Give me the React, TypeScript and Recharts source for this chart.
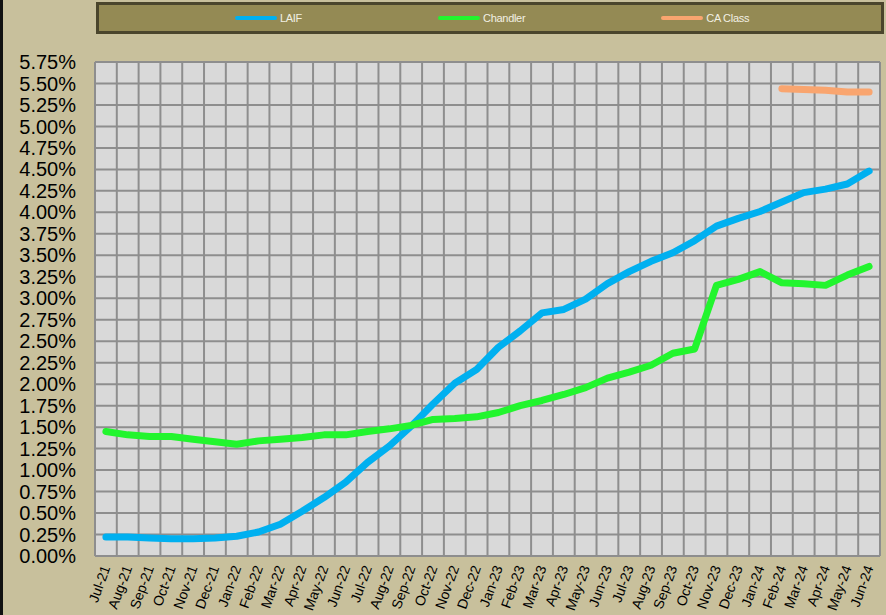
import React from 'react'
import {LineChart, Line, XAxis, YAxis, CartesianGrid, Legend} from 'recharts'

const months = [
  'Jul-21', 'Aug-21', 'Sep-21', 'Oct-21', 'Nov-21', 'Dec-21',
  'Jan-22', 'Feb-22', 'Mar-22', 'Apr-22', 'May-22', 'Jun-22',
  'Jul-22', 'Aug-22', 'Sep-22', 'Oct-22', 'Nov-22', 'Dec-22',
  'Jan-23', 'Feb-23', 'Mar-23', 'Apr-23', 'May-23', 'Jun-23',
  'Jul-23', 'Aug-23', 'Sep-23', 'Oct-23', 'Nov-23', 'Dec-23',
  'Jan-24', 'Feb-24', 'Mar-24', 'Apr-24', 'May-24', 'Jun-24',
]

const laif = [
  0.22, 0.22, 0.21, 0.2, 0.2, 0.21,
  0.23, 0.28, 0.37, 0.52, 0.68, 0.86,
  1.09, 1.28, 1.51, 1.77, 2.01, 2.17,
  2.43, 2.62, 2.83, 2.87, 2.99, 3.17,
  3.31, 3.43, 3.53, 3.67, 3.84, 3.93,
  4.01, 4.12, 4.23, 4.27, 4.33, 4.48,
]

const chandler = [
  1.45, 1.41, 1.39, 1.39, 1.36, 1.33,
  1.3, 1.34, 1.36, 1.38, 1.41, 1.41,
  1.45, 1.48, 1.52, 1.59, 1.6, 1.62,
  1.67, 1.75, 1.81, 1.88, 1.96, 2.07,
  2.14, 2.22, 2.36, 2.41, 3.15, 3.22,
  3.31, 3.18, 3.17, 3.15, 3.27, 3.37,
]

// CA Class only starts in Feb-24
const caClass = [
  null, null, null, null, null, null,
  null, null, null, null, null, null,
  null, null, null, null, null, null,
  null, null, null, null, null, null,
  null, null, null, null, null, null,
  null, 5.44, 5.43, 5.42, 5.4, 5.4,
]

const yTicks = [
  0, 0.25, 0.5, 0.75, 1, 1.25, 1.5, 1.75, 2, 2.25, 2.5, 2.75,
  3, 3.25, 3.5, 3.75, 4, 4.25, 4.5, 4.75, 5, 5.25, 5.5, 5.75,
]

const data = months.map((m, i) => ({
  month: m,
  LAIF: laif[i],
  Chandler: chandler[i],
  'CA Class': caClass[i],
}))

const series = [
  {key: 'LAIF', color: '#00b0f0'},
  {key: 'Chandler', color: '#22f52e'},
  {key: 'CA Class', color: '#f9a56f'},
]

const font = "'Liberation Sans', Arial, sans-serif"

// plot is 785px wide, 36 months -> half a month column each side
const halfCol = 785 / months.length / 2

function MonthTick(props: any) {
  const {x, y, payload} = props
  return (
    <g transform={`translate(${x},${y})`}>
      <text textAnchor='end' dy='0.35em' transform='rotate(-70)' fontSize={14} fontFamily={font} fill='#000'>
        {payload.value}
      </text>
    </g>
  )
}

function LegendBox() {
  return (
    <div style={{
      boxSizing: 'border-box', width: 788, height: 32,
      background: '#948a54', border: '3px solid #4a452c',
      display: 'flex', alignItems: 'center', gap: 136, paddingLeft: 136,
    }}>
      {series.map(s => (
        <div key={s.key} style={{display: 'flex', alignItems: 'center'}}>
          <div style={{width: 42, height: 4, borderRadius: 2, background: s.color, marginRight: 3}} />
          <span style={{fontFamily: font, fontSize: 11, color: '#f2f0e4', letterSpacing: -0.3}}>{s.key}</span>
        </div>
      ))}
    </div>
  )
}

export default function App() {
  return (
    <div style={{position: 'absolute', left: 0, top: 0, width: 886, height: 615, background: '#c8c09c'}}>
      <div style={{position: 'absolute', left: 0, top: 0, width: 3, height: 615, background: '#111'}} />
      <LineChart width={886} height={615} data={data} margin={{top: 30, right: 6, bottom: 0, left: 0}}>
        <CartesianGrid
          fill='#d9d9d9'
          stroke='#8e8e8e'
          strokeWidth={2}
          verticalCoordinatesGenerator={({offset}: any) =>
            Array.from({length: months.length + 1}, (_, i) => offset.left + (i * offset.width) / months.length)
          }
        />
        <XAxis
          dataKey='month'
          interval={0}
          axisLine={false}
          tickLine={false}
          tickSize={0}
          tickMargin={10}
          height={59}
          padding={{left: halfCol, right: halfCol}}
          tick={<MonthTick />}
        />
        <YAxis
          domain={[0, 5.75]}
          ticks={yTicks}
          interval={0}
          width={95}
          axisLine={false}
          tickLine={false}
          tickSize={0}
          tickMargin={19}
          tickFormatter={(v: number) => v.toFixed(2) + '%'}
          tick={{fontSize: 20, fontFamily: font, fill: '#000'}}
        />
        <Legend
          verticalAlign='top'
          height={32}
          content={() => <LegendBox />}
          wrapperStyle={{position: 'absolute', top: 2, left: 96, width: 788, height: 32}}
        />
        {series.map(s => (
          <Line
            key={s.key}
            dataKey={s.key}
            stroke={s.color}
            strokeWidth={7}
            strokeLinecap='round'
            strokeLinejoin='round'
            dot={false}
            activeDot={false}
            connectNulls={false}
            isAnimationActive={false}
          />
        ))}
      </LineChart>
    </div>
  )
}
